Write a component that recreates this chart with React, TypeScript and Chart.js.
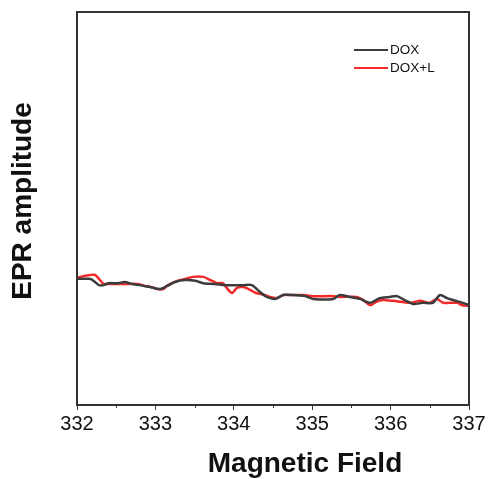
import React, { useEffect, useRef } from "react";
import { Chart, registerables } from "chart.js";

Chart.register(...registerables);

const seriesLabels = ["DOX", "DOX+L"];
const seriesColors = ["#3c3c3c", "#f42a2a"];

const fieldDOX = [332.0, 332.09, 332.17, 332.23, 332.28, 332.34, 332.4, 332.52, 332.61, 332.7, 332.8, 332.93, 333.06, 333.15, 333.25, 333.38, 333.51, 333.61, 333.76, 333.89, 334.02, 334.12, 334.23, 334.33, 334.42, 334.53, 334.63, 334.76, 334.91, 335.01, 335.27, 335.35, 335.48, 335.61, 335.74, 335.86, 335.99, 336.08, 336.18, 336.29, 336.41, 336.54, 336.63, 336.72, 336.8, 336.92, 337.0];
const ampDOX = [32.1, 32.1, 32.1, 31.3, 30.5, 30.5, 31.0, 31.0, 31.3, 30.8, 30.5, 30.0, 29.5, 30.3, 31.3, 31.8, 31.6, 31.0, 30.8, 30.5, 30.5, 30.5, 30.5, 28.8, 27.5, 27.0, 28.0, 28.0, 27.7, 27.0, 27.0, 28.0, 27.5, 27.0, 26.0, 27.2, 27.5, 27.7, 26.7, 25.7, 26.0, 26.0, 28.0, 27.2, 26.7, 26.0, 25.4];

const fieldDOXL = [332.0, 332.08, 332.17, 332.23, 332.28, 332.34, 332.42, 332.61, 332.77, 332.87, 332.96, 333.02, 333.1, 333.16, 333.28, 333.38, 333.48, 333.61, 333.7, 333.79, 333.86, 333.93, 333.98, 334.04, 334.12, 334.21, 334.28, 334.36, 334.46, 334.55, 334.63, 334.72, 334.88, 335.01, 335.27, 335.35, 335.57, 335.65, 335.74, 335.81, 335.9, 336.03, 336.15, 336.25, 336.38, 336.5, 336.59, 336.67, 336.85, 336.91, 337.0];
const ampDOXL = [32.3, 32.8, 33.1, 33.1, 32.1, 30.8, 30.8, 30.8, 30.8, 30.3, 30.0, 29.5, 29.5, 30.5, 31.6, 32.1, 32.6, 32.6, 31.8, 31.0, 31.0, 29.3, 28.5, 29.8, 30.0, 29.3, 28.5, 28.2, 27.5, 27.2, 28.0, 28.0, 28.0, 27.7, 27.7, 27.5, 27.5, 26.7, 25.4, 26.2, 26.7, 26.5, 26.2, 26.0, 26.5, 26.0, 27.0, 26.0, 26.0, 25.4, 25.2];

const xMin = 332;
const xMax = 337;
const xTickLabels = ["332", "333", "334", "335", "336", "337"];
const xMinorTicks = [332.5, 333.5, 334.5, 335.5, 336.5];
const xTitle = "Magnetic Field";
const yTitle = "EPR amplitude";

const FONT = "'Liberation Sans', Arial, sans-serif";

const isMajor = (v: number) => Math.abs(v - Math.round(v)) < 1e-6;

const decorPlugin = {
  id: "decor",
  afterDatasetsDraw(chart: any) {
    const { ctx, chartArea } = chart;
    const xs = chart.scales.x;
    ctx.save();
    // frame
    ctx.strokeStyle = "#333333";
    ctx.lineWidth = 2;
    ctx.strokeRect(chartArea.left, chartArea.top, chartArea.right - chartArea.left, chartArea.bottom - chartArea.top);
    // minor ticks
    ctx.lineWidth = 1;
    xMinorTicks.forEach((v) => {
      const px = Math.round(xs.getPixelForValue(v)) + 0.5;
      ctx.beginPath();
      ctx.moveTo(px, chartArea.bottom);
      ctx.lineTo(px, chartArea.bottom + 3);
      ctx.stroke();
    });
    // legend
    ctx.font = `13.5px ${FONT}`;
    ctx.textBaseline = "middle";
    ctx.textAlign = "left";
    chart.data.datasets.forEach((ds: any, i: number) => {
      const y = 50 + i * 18;
      ctx.strokeStyle = ds.borderColor;
      ctx.lineWidth = 2;
      ctx.beginPath();
      ctx.moveTo(354, y);
      ctx.lineTo(388, y);
      ctx.stroke();
      ctx.fillStyle = "#111111";
      ctx.fillText(ds.label, 390, y);
    });
    // axis titles
    ctx.fillStyle = "#111111";
    ctx.font = `bold 28px ${FONT}`;
    ctx.textAlign = "center";
    ctx.textBaseline = "middle";
    ctx.fillText(xTitle, 305, 464);
    ctx.translate(23, 201);
    ctx.rotate(-Math.PI / 2);
    ctx.fillText(yTitle, 0, 0);
    ctx.restore();
  },
};

export default function App() {
  const ref = useRef<HTMLCanvasElement | null>(null);
  useEffect(() => {
    if (!ref.current) return;
    const chart = new Chart(ref.current, {
      type: "line",
      data: {
        datasets: [
          {
            label: seriesLabels[0],
            data: fieldDOX.map((f, i) => ({ x: f, y: ampDOX[i] })),
            borderColor: seriesColors[0],
            borderWidth: 2.5,
            pointRadius: 0,
            tension: 0.25,
            fill: false,
          },
          {
            label: seriesLabels[1],
            data: fieldDOXL.map((f, i) => ({ x: f, y: ampDOXL[i] })),
            borderColor: seriesColors[1],
            borderWidth: 2.5,
            pointRadius: 0,
            tension: 0.25,
            fill: false,
          },
        ],
      },
      options: {
        animation: false,
        responsive: false,
        maintainAspectRatio: false,
        layout: { padding: { left: 77, right: 19, top: 12, bottom: 0 } },
        plugins: { legend: { display: false }, tooltip: { enabled: false } },
        scales: {
          x: {
            type: "linear",
            min: xMin,
            max: xMax,
            afterFit: (s: any) => {
              s.height = 74;
            },
            border: { display: true, color: "#333333", width: 2 },
            grid: {
              drawOnChartArea: false,
              drawTicks: true,
              tickLength: 5,
              color: "#333333",
              tickColor: (c: any) => (c.tick && isMajor(c.tick.value) ? "#333333" : "rgba(0,0,0,0)"),
            },
            ticks: {
              stepSize: 0.5,
              autoSkip: false,
              maxRotation: 0,
              padding: 2,
              color: "#111111",
              font: { family: FONT, size: 20 },
              callback: (v: any) => {
                const n = Number(v);
                if (!isMajor(n)) return "";
                return xTickLabels[Math.round(n) - xMin] ?? "";
              },
            },
          },
          y: {
            type: "linear",
            min: 0,
            max: 100,
            display: false,
          },
        },
      },
      plugins: [decorPlugin],
    });
    return () => chart.destroy();
  }, []);
  return (
    <div style={{ position: "fixed", left: 0, top: 0, width: 488, height: 479, background: "#fff" }}>
      <canvas ref={ref} width={488} height={479} style={{ width: 488, height: 479, display: "block" }} />
    </div>
  );
}
